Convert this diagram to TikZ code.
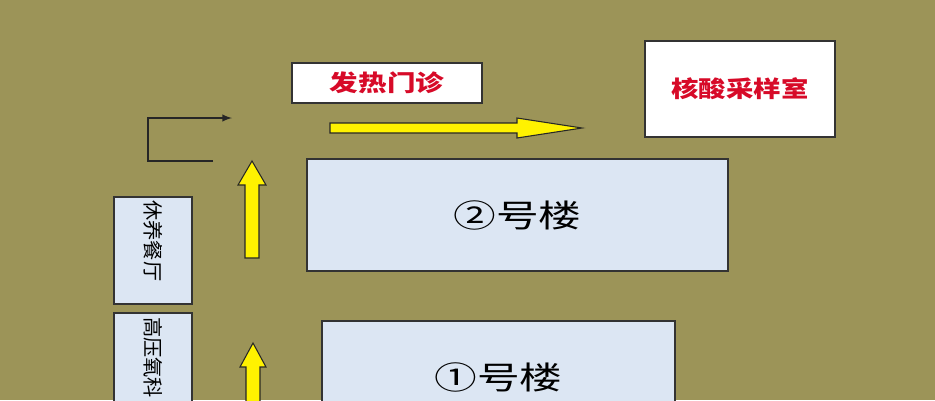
\documentclass[tikz,border=0pt]{standalone}
\usepackage{xcolor}
\usepackage{fontspec}
\usepackage{tikz}
\usetikzlibrary{arrows}
\newfontfamily\cjk{Noto Sans CJK SC}
\definecolor{olive}{RGB}{156,148,88}
\definecolor{bldblue}{RGB}{220,230,243}
\definecolor{signred}{RGB}{215,10,40}
\newcommand{\widen}[2][1.25]{\scalebox{#1}[1]{#2}}
\tikzset{
  signbox/.style={draw=black!80, fill=white, line width=0.8pt, inner sep=0pt,
    text=signred, font=\cjk\bfseries\fontsize{13}{13}\selectfont},
  bldbox/.style={draw=black!80, fill=bldblue, line width=0.8pt, inner sep=0pt,
    font=\cjk\fontsize{18}{18}\selectfont},
  sidebox/.style={draw=black!80, fill=bldblue, line width=0.8pt, inner sep=0pt,
    minimum width=1.56cm, minimum height=2.14cm},
  sidetext/.style={rotate=-90, inner sep=0pt, font=\cjk\fontsize{11.5}{11.5}\selectfont},
  yarrow/.style={draw=black!85, fill=yellow, line width=0.6pt, line join=miter}
}
\begin{document}
\begin{tikzpicture}[x=0.02cm, y=-0.02cm]
		\useasboundingbox (0,0) rectangle (935,400);
		\clip (0,0) rectangle (935,400);
		\fill[olive] (0,0) rectangle (935,400);
		% signs at the top
		\node[signbox, minimum width=3.8cm, minimum height=0.8cm] (fever) at (387,83) {\widen{发热门诊}};
		\node[signbox, minimum width=3.8cm, minimum height=1.92cm] (nat) at (740,89) {\widen[1.2]{核酸采样室}};
		% buildings
		\node[bldbox, minimum width=8.42cm, minimum height=2.24cm] (bldtwo) at (517.5,215) {\widen[1.35]{②号楼}};
		\node[bldbox, minimum width=7.06cm, minimum height=2.24cm] (bldone) at (498.5,377) {\widen[1.35]{①号楼}};
		% side rooms
		\node[sidebox] (rest) at (153,250.5) {};
		\node[sidetext] at ([yshift=5.5pt]rest.center) {休养餐厅};
		\node[sidebox] (oxygen) at (153,366.5) {};
		\node[sidetext] at ([yshift=5pt]oxygen.center) {高压氧科};
		% yellow arrows
		\draw[yarrow] (330,123) -- (517,123) -- (517,118) -- (582,128) -- (517,138) -- (517,133) -- (330,133) -- cycle;
		\draw[yarrow] (245,258) -- (245,185) -- (238,185) -- (252,161) -- (266,185) -- (259,185) -- (259,258) -- cycle;
		\draw[yarrow] (246,420) -- (246,367) -- (240,367) -- (253,343) -- (266,367) -- (260,367) -- (260,420) -- cycle;
		% turn back
		\coordinate (turnstart) at (213,161);
		\coordinate (turnend) at (232,118);
		\draw[-latex, line width=0.9pt, black!85] (turnstart) -- (148,161) |- (turnend);
	\end{tikzpicture}
\end{document}
